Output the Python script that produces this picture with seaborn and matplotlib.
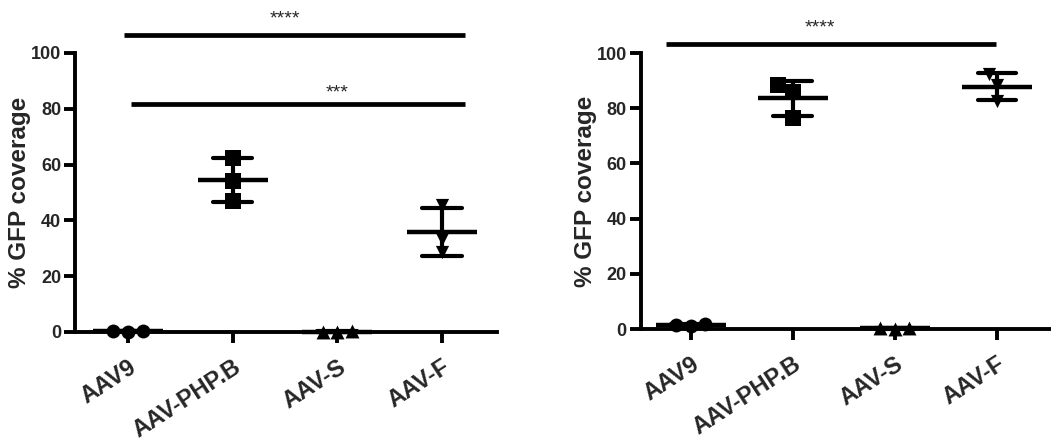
import numpy as np
import pandas as pd
import matplotlib
matplotlib.use("Agg")
import matplotlib.pyplot as plt
import seaborn as sns

categories = ["AAV9", "AAV-PHP.B", "AAV-S", "AAV-F"]
markers = ["o", "s", "^", "v"]

left_aav9 = [0.3, 0.1, 0.4]
left_phpb = [62.5, 54.0, 47.0]
left_s = [0.1, 0.0, 0.2]
left_f = [45.5, 33.5, 28.5]

right_aav9 = [1.8, 1.0, 1.5]
right_phpb = [88.5, 86.0, 76.5]
right_s = [0.3, 0.0, 0.5]
right_f = [92.5, 88.5, 82.5]

yticks = [0, 20, 40, 60, 80, 100]
ylabel = "% GFP coverage"

sns.set_theme(style="ticks")
plt.rcParams["font.family"] = ["Liberation Sans", "DejaVu Sans"]
plt.rcParams["font.weight"] = "bold"


def make_df(groups):
    rows = []
    for cat, vals in zip(categories, groups):
        for v in vals:
            rows.append({"group": cat, "value": v})
    return pd.DataFrame(rows)


fig = plt.figure(figsize=(10.51, 4.43), dpi=100)
axL = fig.add_axes([0.0714, 0.2506, 0.4016, 0.6298])
axR = fig.add_axes([0.6096, 0.2573, 0.3904, 0.6230])

sizes = [10, 11.5, 10, 9.5]


def draw(ax, df, xlim, sigs):
    for cat, m, sz in zip(categories, markers, sizes):
        sub = df[df["group"] == cat]
        sns.swarmplot(data=sub, x="group", y="value", order=categories, ax=ax,
                      color="black", marker=m, size=sz, clip_on=False, zorder=5)
    sns.pointplot(data=df, x="group", y="value", order=categories, ax=ax,
                  errorbar="sd", capsize=0.38, color="black",
                  marker="_", markersize=50, markeredgewidth=3.2,
                  linestyle="none", err_kws={"linewidth": 3}, zorder=6)
    for c in ax.collections:
        c.set_clip_on(False)
    for l in ax.lines:
        l.set_clip_on(False)
    ax.set_ylim(0, 100)
    ax.set_xlim(*xlim)
    ax.set_yticks(yticks)
    ax.set_yticklabels([str(t) for t in yticks], fontsize=13, fontweight="bold")
    ax.set_xticks(range(len(categories)))
    ax.set_xticklabels(categories, rotation=33, ha="right", rotation_mode="anchor",
                       fontsize=17, fontweight="bold")
    ax.set_xlabel("")
    ax.set_ylabel(ylabel, fontsize=17.5, fontweight="bold", labelpad=0)
    ax.tick_params(axis="both", width=2.8, length=8, color="black")
    ax.tick_params(axis="x", pad=9)
    ax.tick_params(axis="y", pad=2)
    sns.despine(ax=ax)
    for s in ["left", "bottom"]:
        ax.spines[s].set_linewidth(2.8)
        ax.spines[s].set_color("black")
    for (x0, x1, yl, label, xt, yt) in sigs:
        ax.plot([x0, x1], [yl, yl], color="black", lw=3.4, clip_on=False,
                solid_capstyle="butt")
        ax.text(xt, yt, label, ha="center", va="baseline", fontsize=14,
                fontweight="normal")


draw(axL, make_df([left_aav9, left_phpb, left_s, left_f]), (-0.507, 3.53),
     [(-0.04, 3.22, 106.5, "****", 1.5, 110.4),
      (0.03, 3.22, 81.7, "***", 2.0, 84.2)])
draw(axR, make_df([right_aav9, right_phpb, right_s, right_f]), (-0.49, 3.53),
     [(-0.24, 2.99, 103.3, "****", 1.27, 107.6)])

fig.savefig("out.png", dpi=100)
